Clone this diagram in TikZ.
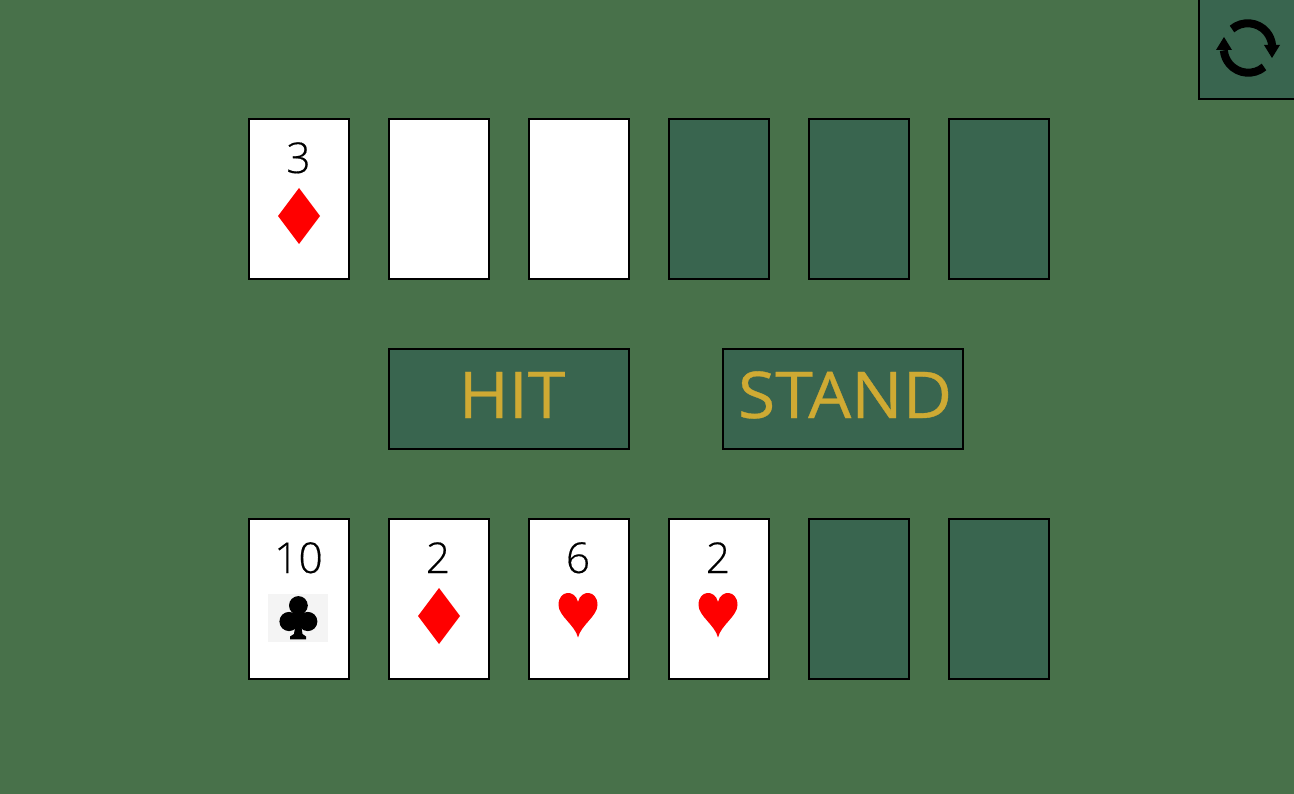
\documentclass[tikz,border=0pt]{standalone}
\usepackage{fontspec}
\setmainfont{Open Sans}
\newfontfamily\digitfont[FakeBold=0.4]{Open Sans Light}
\newfontfamily\btnfont[FakeStretch=1.055,FakeBold=0.5]{Open Sans}
\definecolor{felt}{HTML}{48714A}
\definecolor{slotgreen}{HTML}{39654F}
\definecolor{gold}{HTML}{CFAA33}
\definecolor{clubbg}{HTML}{F4F4F4}
\tikzset{
  x=1pt,y=-1pt,
  slot/.style={rectangle,draw=black,line width=2pt,minimum width=100pt,minimum height=160pt,inner sep=0pt,outer sep=0pt},
  faceup/.style={slot,fill=white},
  facedown/.style={slot,fill=slotgreen},
  btn/.style={rectangle,draw=black,line width=2pt,fill=slotgreen,minimum width=240pt,minimum height=100pt,inner sep=0pt,outer sep=0pt},
  btntext/.style={text=gold,font=\btnfont\fontsize{64.5}{64.5}\selectfont,anchor=base,inner sep=0pt},
  rank/.style={text=black,font=\digitfont\fontsize{42.5}{42.5}\selectfont,anchor=base,inner sep=0pt},
  icon/.style={line width=8pt,draw=black},
}
\newcommand{\suitdiamond}[2]{\fill[red] (#1,#2-28) -- (#1+21,#2) -- (#1,#2+28) -- (#1-21,#2) -- cycle;}
\newcommand{\suitheart}[2]{\fill[red] (#1,#2+21.5) .. controls (#1-3,#2+9) and (#1-19.5,#2+0) .. (#1-19.5,#2-11) .. controls (#1-19.5,#2-26) and (#1-3,#2-27) .. (#1,#2-14) .. controls (#1+3,#2-27) and (#1+19.5,#2-26) .. (#1+19.5,#2-11) .. controls (#1+19.5,#2+0) and (#1+3,#2+9) .. cycle;}
\begin{document}
\begin{tikzpicture}
\useasboundingbox (0,0) rectangle (1294,794);
\fill[felt] (0,0) rectangle (1294,794);

% refresh button
\node[rectangle,draw=black,line width=2pt,fill=slotgreen,minimum size=100pt,inner sep=0pt,outer sep=0pt] (refresh) at (1249,49) {};
\draw[icon] (1232,29) arc[start angle=-130,end angle=-5,radius=24.5];
\fill (1264,45) -- (1280,45) -- (1272,58) -- cycle;
\draw[icon] (1264,67) arc[start angle=50,end angle=175,radius=24.5];
\fill (1216,50) -- (1232,50) -- (1224,37) -- cycle;

% dealer row
\node[faceup] (d1) at (299,199) {};
\node[faceup] (d2) at (439,199) {};
\node[faceup] (d3) at (579,199) {};
\node[facedown] (d4) at (719,199) {};
\node[facedown] (d5) at (859,199) {};
\node[facedown] (d6) at (999,199) {};
\node[rank] (d1r) at (298.5,173) {3};
\suitdiamond{299}{216}

% buttons
\node[btn] (hit) at (509,399) {};
\node[btn] (stand) at (843,399) {};
\node[btntext] (hitt) at (512,418) {HIT};
\node[btntext] (standt) at (845,418) {STAND};

% player row
\node[faceup] (p1) at (299,599) {};
\node[faceup] (p2) at (439,599) {};
\node[faceup] (p3) at (579,599) {};
\node[faceup] (p4) at (719,599) {};
\node[facedown] (p5) at (859,599) {};
\node[facedown] (p6) at (999,599) {};
\node[rank] (p1r) at (298.5,573) {10};
\node[rank] (p2r) at (438,573) {2};
\node[rank] (p3r) at (578,573) {6};
\node[rank] (p4r) at (718,573) {2};
% club
\fill[clubbg] (268,594) rectangle (328,642);
\fill[black] (298.4,605.5) circle[radius=9.4];
\fill[black] (289,621.5) circle[radius=9.6];
\fill[black] (307.8,621.5) circle[radius=9.6];
\fill[black] (293,608) rectangle (304,626);
\fill[black] (290,639.3) -- (306,639.3) -- (306,636.5) -- (302.5,634) -- (300,618) -- (296.5,618) -- (294,634) -- (290,636.5) -- cycle;
\suitdiamond{439}{616}
\suitheart{578}{616}
\suitheart{718}{616}
\end{tikzpicture}
\end{document}
